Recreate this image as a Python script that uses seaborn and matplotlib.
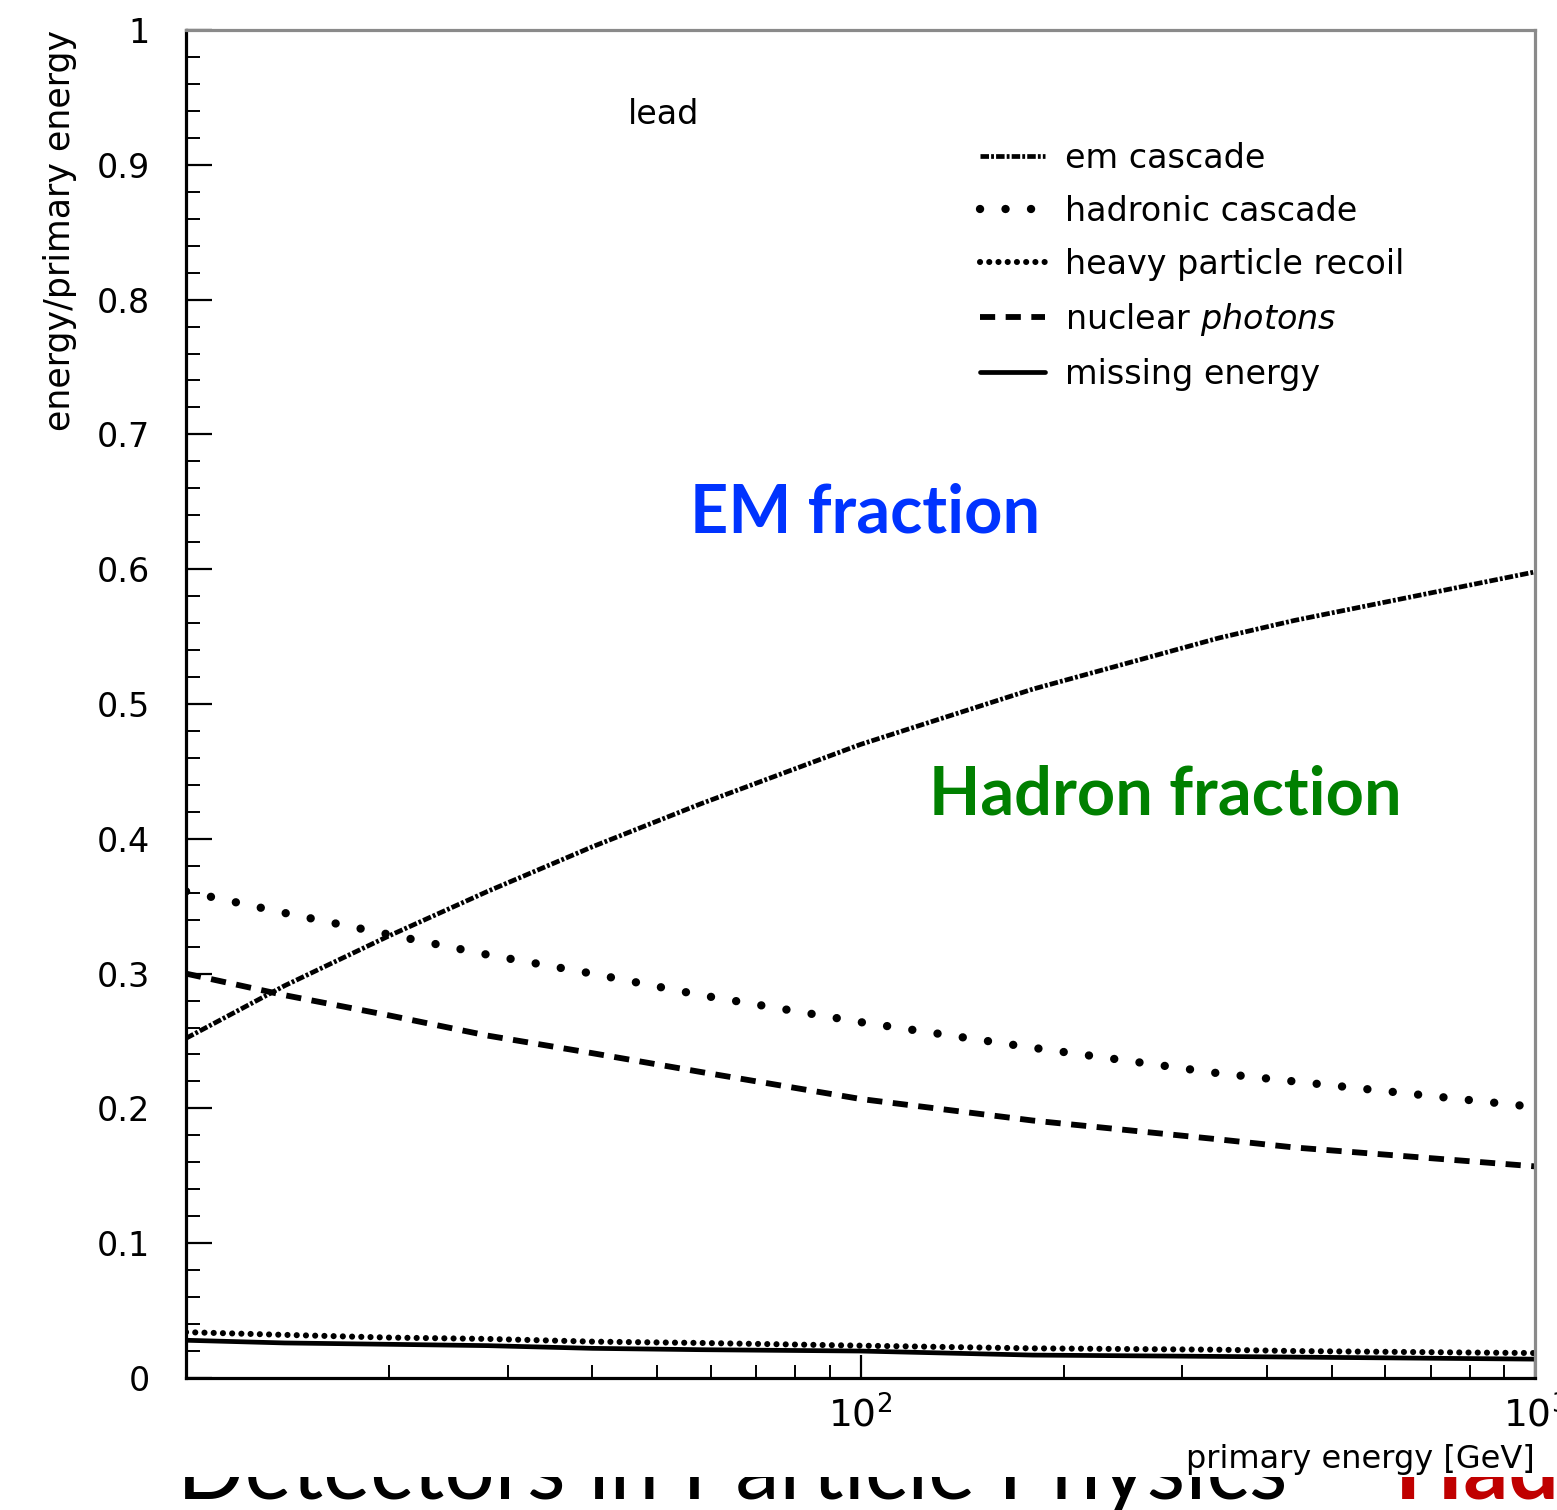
import numpy as np
import matplotlib
matplotlib.use("Agg")
import matplotlib.pyplot as plt
import seaborn as sns
from matplotlib.ticker import FixedLocator, LogLocator, NullFormatter
from matplotlib.patches import Rectangle

# Energy sharing in a lead hadron shower versus primary energy
energy = [10, 14, 20, 28, 40, 58, 100, 180, 340, 440, 1000]
em_cascade = [0.252, 0.291, 0.328, 0.361, 0.394, 0.426, 0.470, 0.511, 0.549, 0.562, 0.598]
hadronic_cascade = [0.361, 0.345, 0.329, 0.314, 0.300, 0.284, 0.264, 0.245, 0.226, 0.220, 0.201]
heavy_recoil = [0.034, 0.032, 0.030, 0.029, 0.027, 0.026, 0.024, 0.022, 0.021, 0.020, 0.0185]
nuclear_photons = [0.300, 0.284, 0.269, 0.254, 0.241, 0.227, 0.207, 0.191, 0.177, 0.171, 0.157]
missing_energy = [0.028, 0.026, 0.025, 0.024, 0.022, 0.021, 0.020, 0.017, 0.016, 0.0155, 0.014]

series_labels = ["em cascade", "hadronic cascade", "heavy particle recoil",
                 r"nuclear $\it{photons}$", "missing energy"]
y_ticks = [0.0, 0.1, 0.2, 0.3, 0.4, 0.5, 0.6, 0.7, 0.8, 0.9, 1.0]
y_tick_labels = ["0", "0.1", "0.2", "0.3", "0.4", "0.5", "0.6", "0.7", "0.8", "0.9", "1"]
x_major = [100, 1000]

sns.set_style("white")
plt.rcParams["font.family"] = ["DejaVu Sans"]
plt.rcParams["mathtext.fontset"] = "dejavusans"
for key in ("text.color", "axes.labelcolor", "xtick.color", "ytick.color"):
    plt.rcParams[key] = "black"

W, H = 1557, 1510
fig = plt.figure(figsize=(W / 100, H / 100), dpi=100, facecolor="white")
ax = fig.add_axes([186 / W, 1 - 1378 / H, 1349 / W, 1348 / H])
ax.set_facecolor("white")

styles = [
    dict(linewidth=3.4, linestyle=(0, (1.8, 0.45, 0.6, 0.45)), dash_capstyle="butt"),
    dict(linewidth=6.0, linestyle=(0, (0.01, 3.05)), dash_capstyle="round"),
    dict(linewidth=4.4, linestyle=(0, (0.01, 1.5)), dash_capstyle="round"),
    dict(linewidth=4.2, linestyle=(0, (2.6, 1.8)), dash_capstyle="butt"),
    dict(linewidth=3.4, linestyle="-", dash_capstyle="butt"),
]
values = [em_cascade, hadronic_cascade, heavy_recoil, nuclear_photons, missing_energy]

for vals, lab, st in zip(values, series_labels, styles):
    sns.lineplot(x=energy, y=vals, ax=ax, color="black", label=lab,
                 estimator=None, sort=False, **st)

ax.set_xscale("log")
ax.set_xlim(10, 1000)
ax.set_ylim(0, 1)

ax.xaxis.set_major_locator(FixedLocator(x_major))
ax.xaxis.set_minor_locator(LogLocator(base=10, subs=np.arange(2, 10)))
ax.xaxis.set_minor_formatter(NullFormatter())
ax.set_yticks(y_ticks, y_tick_labels)
ax.yaxis.set_minor_locator(FixedLocator(np.arange(0, 1.001, 0.02)))

ax.tick_params(axis="y", which="major", direction="in", length=19, width=1.6,
               left=True, right=False, labelsize=24, pad=26)
ax.tick_params(axis="y", which="minor", direction="in", length=10, width=1.4,
               left=True, right=False)
ax.tick_params(axis="x", which="major", direction="in", length=16.5, width=1.6,
               bottom=True, top=False, labelsize=27, pad=13)
ax.tick_params(axis="x", which="minor", direction="in", length=9.5, width=1.4,
               bottom=True, top=False)

for side in ("left", "bottom"):
    ax.spines[side].set_color("black")
    ax.spines[side].set_linewidth(2.3)
for side in ("top", "right"):
    ax.spines[side].set_color("#8a8a8a")
    ax.spines[side].set_linewidth(2.3)

ax.set_ylabel("energy/primary energy", fontsize=25, loc="top")
ax.yaxis.set_label_coords(-0.081, 1.0)
ax.set_xlabel("primary energy [GeV]", fontsize=23, loc="right")
ax.xaxis.set_label_coords(1.0, -0.049)

handles, labels = ax.get_legend_handles_labels()
ax.legend(handles, labels, loc="upper left", bbox_to_anchor=(0.5886, 0.917),
          frameon=False, fontsize=24, borderpad=0, borderaxespad=0,
          handlelength=1.95, handletextpad=0.6, labelspacing=0.6)

ax.text(0.3277, 0.937, "lead", transform=ax.transAxes, fontsize=24,
        va="center", ha="left")
ax.text(0.5033, 0.6269, "EM fraction", transform=ax.transAxes, fontsize=48,
        family="Lato", fontweight="bold", color="#0033ff",
        ha="center", va="baseline")
ax.text(0.7257, 0.4177, "Hadron fraction", transform=ax.transAxes, fontsize=48,
        family="Lato", fontweight="bold", color="#008000",
        ha="center", va="baseline")

# Slide footer sitting behind the figure panel
fig.text(177 / W, 1 - 1499 / H, "Detectors in Particle Physics \u2013 ",
         fontsize=64, family="Lato", color="black", va="baseline", ha="left",
         zorder=-2)
fig.text(1395 / W, 1 - 1499 / H, "Hadron Calorimetry",
         fontsize=64, family="Lato", fontweight="bold", color="#c00000",
         va="baseline", ha="left", zorder=-2)
fig.patches.append(Rectangle((0, (H - 1477) / H), 1, 1, transform=fig.transFigure,
                             facecolor="white", edgecolor="none", zorder=-1))

fig.savefig("out.png", dpi=100, facecolor="white")
